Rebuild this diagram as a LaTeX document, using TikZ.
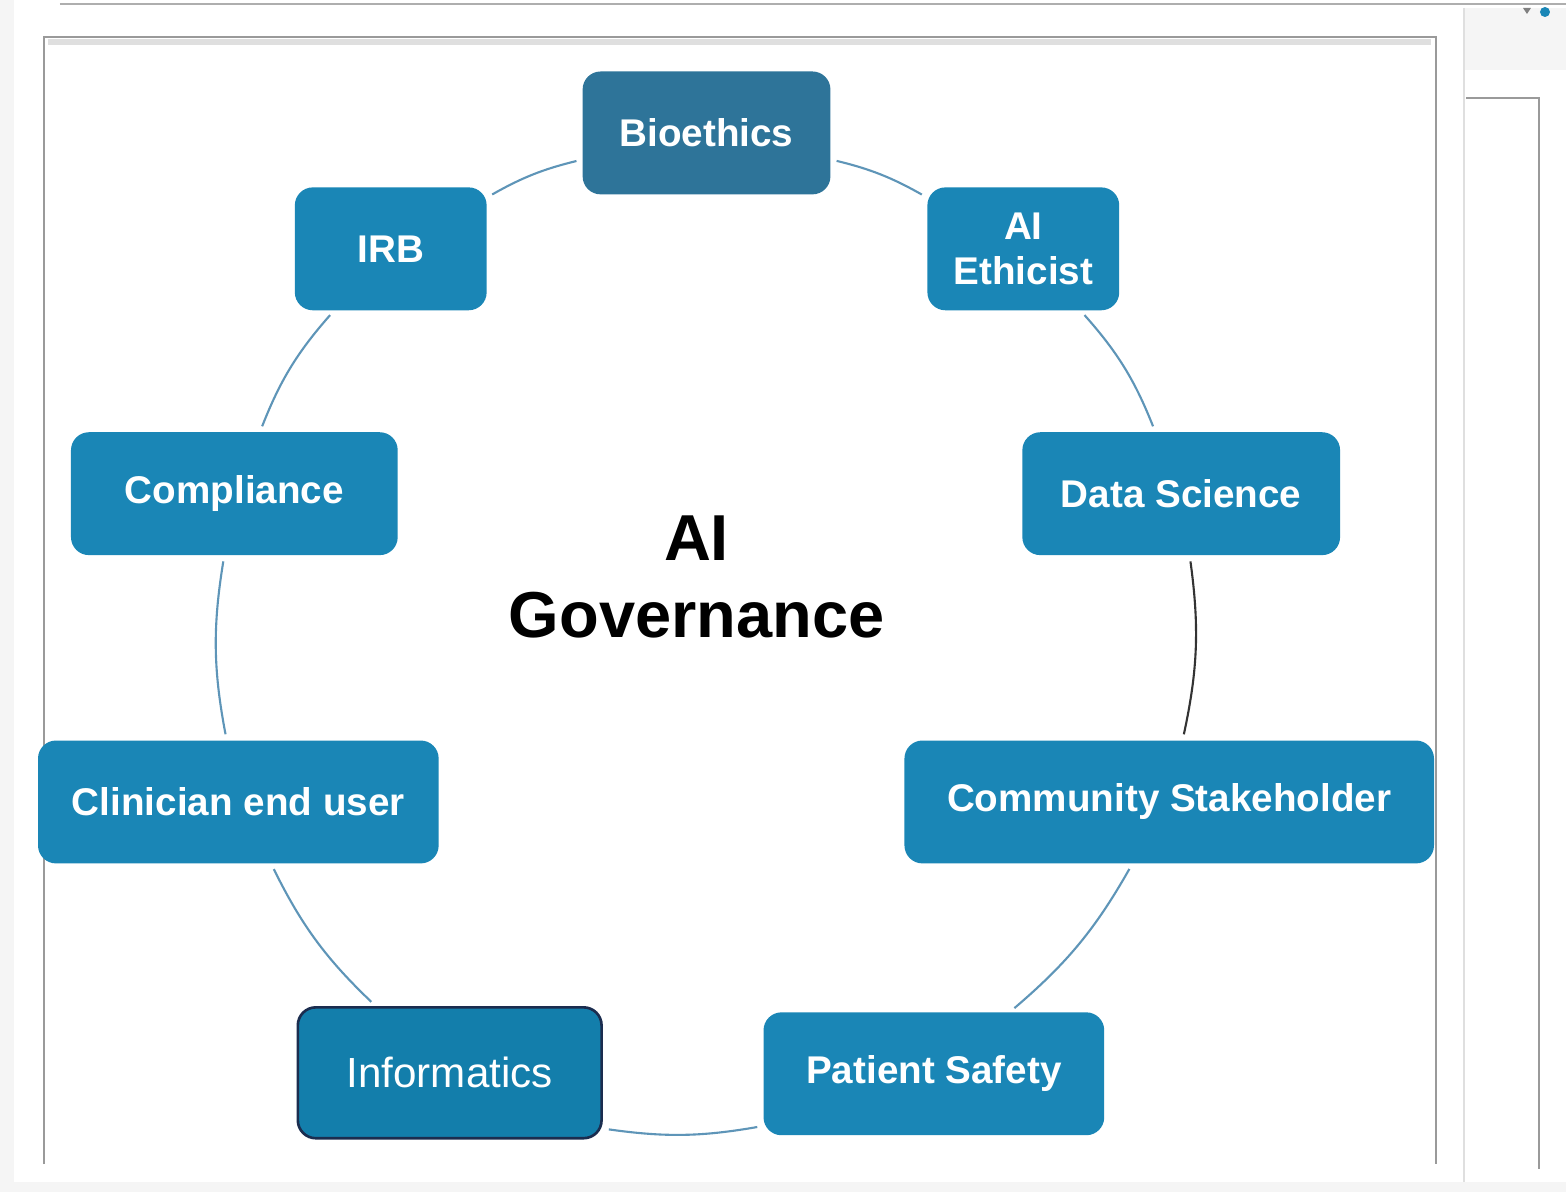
\documentclass[tikz,border=0pt]{standalone}
\usepackage{fontspec}
\setmainfont{Liberation Sans}
\usetikzlibrary{backgrounds}
\definecolor{azul}{HTML}{1A86B6}
\definecolor{azuloscuro}{HTML}{2E7499}
\definecolor{azulinf}{HTML}{137EAB}
\definecolor{marino}{HTML}{1B2D4F}
\definecolor{enlace}{HTML}{5E95B8}
\definecolor{marco}{HTML}{9A9A9A}
\tikzstyle{member}=[
	rectangle,
	rounded corners=0.36cm,
	fill=azul,
	text=white,
	font=\fontsize{22}{26}\selectfont\bfseries,
	minimum height=2.46cm,
	inner sep=0pt,
	align=center]
\tikzstyle{link}=[
	draw=enlace,
	line width=1.2pt,
	shorten >=0.12cm,
	shorten <=0.12cm]
\tikzstyle{marcos}=[
	draw=marco,
	line width=1.5pt]
\begin{document}
\begin{tikzpicture}[x=0.02cm,y=-0.02cm]
	\begin{scope}[on background layer]
		\fill[white] (0,0) rectangle (1567,1193);
		\fill[gray!8] (0,0) rectangle (14,1193);
		\fill[gray!8] (0,1183) rectangle (1567,1193);
		\fill[gray!8] (1465,8) rectangle (1567,70);
		\draw[gray!25,line width=1pt] (1465,8) -- (1465,1183);
		\draw[marco!80,line width=1.2pt] (60,4) -- (1567,4);
		\draw[gray!25,line width=3pt] (48,42) -- (1432,42);
		\draw[marcos] (44,1165) -- (44,37) -- (1437,37) -- (1437,1165);
		\draw[marcos] (1467,98) -- (1540,98) -- (1540,1170);
		\fill[azul] (1546,12) circle (5);
		\fill[gray] (1524,8) -- (1532,8) -- (1528,14) -- cycle;
	\end{scope}
	% miembros del comite
	\node[member,fill=azuloscuro,minimum width=4.96cm] (bio) at (707,133) {Bioethics};
	\node[member,minimum width=3.84cm] (irb) at (391,249) {IRB};
	\node[member,minimum width=3.84cm] (aie) at (1024,249) {AI\\Ethicist};
	\node[member,minimum width=6.54cm] (comp) at (234.5,494) {Compliance};
	\node[member,minimum width=6.36cm] (ds) at (1182,494) {Data Science};
	\node[member,minimum width=8.02cm] (clin) at (238.5,802.5) {Clinician end user};
	\node[member,minimum width=10.6cm] (comm) at (1170,802.5) {Community Stakeholder};
	\node[member,fill=azulinf,draw=marino,line width=1.5pt,minimum width=6.08cm,minimum height=2.62cm,font=\fontsize{24}{28}\selectfont] (inf) at (450,1073.5) {\raisebox{-0.1cm}{Informatics}};
	\node[member,minimum width=6.82cm] (ps) at (934.5,1074.5) {Patient Safety};
	\node[font=\fontsize{37}{44}\selectfont\bfseries,align=center] (gov) at (697,577) {AI\\Governance};
	% anillo
	\draw[link] (bio) to[bend left=8] (aie);
	\draw[link] (aie) to[bend left=10] (ds);
	\draw[link,draw=black!80] (ds) to[bend left=10] (comm);
	\draw[link] (comm) to[bend left=10] (ps);
	\draw[link] (ps.197) to[bend left=9] (inf.-20);
	\draw[link] (inf) to[bend left=10] (clin);
	\draw[link] (clin) to[bend left=10] (comp);
	\draw[link] (comp) to[bend left=10] (irb);
	\draw[link] (irb) to[bend left=8] (bio);
\end{tikzpicture}
\end{document}
